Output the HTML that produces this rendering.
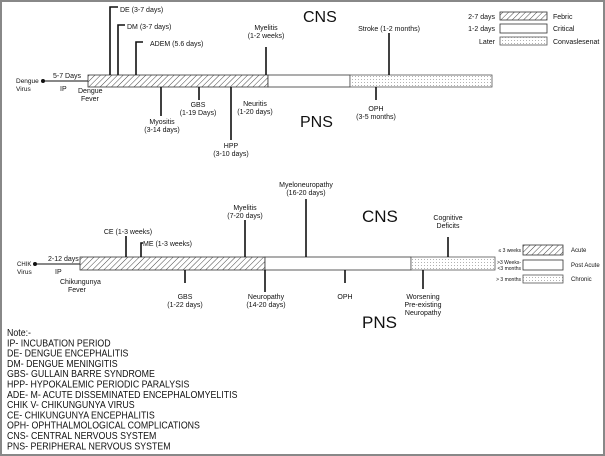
<!DOCTYPE html>
<html><head><meta charset="utf-8"><style>
html,body{margin:0;padding:0;background:#fff;}
svg{display:block;}
text{font-family:"Liberation Sans",Arial,sans-serif;fill:#111;}
.s{font-size:7px;}
.xs{font-size:5px;}
.n{font-size:10.5px;}
</style></head><body>
<svg width="605" height="456" viewBox="0 0 605 456" xmlns="http://www.w3.org/2000/svg">
<defs>
<pattern id="h" patternUnits="userSpaceOnUse" width="4" height="4" patternTransform="rotate(45)">
<rect width="4" height="4" fill="#fff"/><line x1="0" y1="0" x2="0" y2="4" stroke="#333" stroke-width="0.9"/></pattern>
<pattern id="d" patternUnits="userSpaceOnUse" width="3" height="3">
<rect width="3" height="3" fill="#fff"/><rect x="1" y="1" width="0.8" height="0.8" fill="#888"/></pattern>
</defs>
<rect x="1" y="1" width="603" height="454" fill="#fff" stroke="#888" stroke-width="2"/>

<!-- TOP diagram -->
<text x="303" y="22" style="font-size:16px">CNS</text>
<text x="300" y="127" style="font-size:16px">PNS</text>
<circle cx="43" cy="81" r="2" fill="#111"/>
<line x1="43" y1="81" x2="88" y2="81" stroke="#111" stroke-width="1"/>
<text class="s" x="16" y="83" style="font-size:6.5px">Dengue</text>
<text class="s" x="16" y="91" style="font-size:6.5px">Virus</text>
<text class="s" x="53" y="78">5-7 Days</text>
<text class="s" x="60" y="91">IP</text>
<text class="s" x="78" y="93">Dengue</text>
<text class="s" x="81" y="101">Fever</text>
<rect x="88" y="75" width="180" height="12" fill="url(#h)" stroke="#333" stroke-width="0.8"/>
<rect x="268" y="75" width="82" height="12" fill="#fff" stroke="#333" stroke-width="0.8"/>
<rect x="350" y="75" width="142" height="12" fill="url(#d)" stroke="#555" stroke-width="0.8"/>
<g stroke="#111" stroke-width="1.6" fill="none">
<polyline points="110,75 110,7 118,7"/>
<polyline points="118,75 118,25 125,25"/>
<polyline points="136,75 136,42 143,42"/>
<line x1="266" y1="75" x2="266" y2="47"/>
<line x1="389" y1="75" x2="389" y2="33"/>
<line x1="161" y1="87" x2="161" y2="116"/>
<line x1="199" y1="87" x2="199" y2="100"/>
<line x1="231" y1="87" x2="231" y2="140"/>
<line x1="376" y1="87" x2="376" y2="100"/>
</g>
<text class="s" x="120" y="12">DE (3-7 days)</text>
<text class="s" x="127" y="29">DM (3-7 days)</text>
<text class="s" x="150" y="46">ADEM (5.6 days)</text>
<g text-anchor="middle">
<text class="s" x="266" y="30">Myelitis</text>
<text class="s" x="266" y="38">(1-2 weeks)</text>
<text class="s" x="389" y="31">Stroke (1-2 months)</text>
<text class="s" x="162" y="124">Myositis</text>
<text class="s" x="162" y="132">(3-14 days)</text>
<text class="s" x="198" y="107">GBS</text>
<text class="s" x="198" y="115">(1-19 Days)</text>
<text class="s" x="255" y="106">Neuritis</text>
<text class="s" x="255" y="114">(1-20 days)</text>
<text class="s" x="231" y="148">HPP</text>
<text class="s" x="231" y="156">(3-10 days)</text>
<text class="s" x="376" y="111">OPH</text>
<text class="s" x="376" y="119">(3-5 months)</text>
</g>
<!-- legend top -->
<rect x="500" y="12" width="47" height="8" fill="url(#h)" stroke="#333" stroke-width="0.8"/>
<rect x="500" y="24" width="47" height="9" fill="#fff" stroke="#333" stroke-width="0.8"/>
<rect x="500" y="37" width="47" height="8" fill="url(#d)" stroke="#555" stroke-width="0.8"/>
<text class="s" x="495" y="19" text-anchor="end">2-7 days</text>
<text class="s" x="495" y="31" text-anchor="end">1-2 days</text>
<text class="s" x="495" y="44" text-anchor="end">Later</text>
<text class="s" x="553" y="19">Febric</text>
<text class="s" x="553" y="31">Critical</text>
<text class="s" x="553" y="44">Convaslesenat</text>

<!-- BOTTOM diagram -->
<text x="362" y="222" style="font-size:17px">CNS</text>
<text x="362" y="328" style="font-size:17px">PNS</text>
<circle cx="35" cy="264" r="2" fill="#111"/>
<line x1="35" y1="264" x2="80" y2="264" stroke="#111" stroke-width="1"/>
<text class="s" x="17" y="266" style="font-size:6px">CHIK</text>
<text class="s" x="17" y="274" style="font-size:6.5px">Virus</text>
<text class="s" x="48" y="261">2-12 days</text>
<text class="s" x="55" y="274">IP</text>
<text class="s" x="60" y="284">Chikungunya</text>
<text class="s" x="68" y="292">Fever</text>
<rect x="80" y="257" width="185" height="13" fill="url(#h)" stroke="#333" stroke-width="0.8"/>
<rect x="265" y="257" width="146" height="13" fill="#fff" stroke="#333" stroke-width="0.8"/>
<rect x="411" y="257" width="84" height="13" fill="url(#d)" stroke="#555" stroke-width="0.8"/>
<g stroke="#111" stroke-width="1.6" fill="none">
<line x1="126" y1="257" x2="126" y2="236"/>
<polyline points="141,257 141,243 143,243"/>
<line x1="245" y1="257" x2="245" y2="220"/>
<line x1="306" y1="257" x2="306" y2="199"/>
<line x1="448" y1="257" x2="448" y2="237"/>
<line x1="185" y1="270" x2="185" y2="283"/>
<line x1="265" y1="270" x2="265" y2="292"/>
<line x1="345" y1="270" x2="345" y2="283"/>
<line x1="423" y1="270" x2="423" y2="289"/>
</g>
<text class="s" x="143" y="246">ME (1-3 weeks)</text>
<g text-anchor="middle">
<text class="s" x="128" y="234">CE (1-3 weeks)</text>
<text class="s" x="245" y="210">Myelitis</text>
<text class="s" x="245" y="218">(7-20 days)</text>
<text class="s" x="306" y="187">Myeloneuropathy</text>
<text class="s" x="306" y="195">(16-20 days)</text>
<text class="s" x="448" y="220">Cognitive</text>
<text class="s" x="448" y="228">Deficits</text>
<text class="s" x="185" y="299">GBS</text>
<text class="s" x="185" y="307">(1-22 days)</text>
<text class="s" x="266" y="299">Neuropathy</text>
<text class="s" x="266" y="307">(14-20 days)</text>
<text class="s" x="345" y="299">OPH</text>
<text class="s" x="423" y="299">Worsening</text>
<text class="s" x="423" y="307">Pre-existing</text>
<text class="s" x="423" y="315">Neuropathy</text>
</g>
<!-- legend bottom -->
<rect x="523" y="245" width="40" height="10" fill="url(#h)" stroke="#333" stroke-width="0.8"/>
<rect x="523" y="260" width="40" height="10" fill="#fff" stroke="#333" stroke-width="0.8"/>
<rect x="523" y="275" width="40" height="8" fill="url(#d)" stroke="#555" stroke-width="0.8"/>
<text class="xs" x="521" y="252" text-anchor="end">≤ 3 weeks</text>
<text class="xs" x="521" y="264" text-anchor="end">&gt;3 Weeks-</text>
<text class="xs" x="521" y="270" text-anchor="end">&lt;3 months</text>
<text class="xs" x="521" y="281" text-anchor="end">&gt; 3 months</text>
<text class="xs" x="571" y="252" style="font-size:6px">Acute</text>
<text class="xs" x="571" y="267" style="font-size:6px">Post Acute</text>
<text class="xs" x="571" y="281" style="font-size:6px">Chronic</text>

<!-- Notes -->
<g transform="translate(7,0) scale(0.84,1)">
<text class="n" x="0" y="336">Note:-</text>
<text class="n" x="0" y="346.3">IP- INCUBATION PERIOD</text>
<text class="n" x="0" y="356.6">DE- DENGUE ENCEPHALITIS</text>
<text class="n" x="0" y="366.9">DM- DENGUE MENINGITIS</text>
<text class="n" x="0" y="377.2">GBS- GULLAIN BARRE SYNDROME</text>
<text class="n" x="0" y="387.5">HPP- HYPOKALEMIC PERIODIC PARALYSIS</text>
<text class="n" x="0" y="397.8">ADE- M- ACUTE DISSEMINATED ENCEPHALOMYELITIS</text>
<text class="n" x="0" y="408.1">CHIK V- CHIKUNGUNYA VIRUS</text>
<text class="n" x="0" y="418.4">CE- CHIKUNGUNYA ENCEPHALITIS</text>
<text class="n" x="0" y="428.7">OPH- OPHTHALMOLOGICAL COMPLICATIONS</text>
<text class="n" x="0" y="439">CNS- CENTRAL NERVOUS SYSTEM</text>
<text class="n" x="0" y="449.3">PNS- PERIPHERAL NERVOUS SYSTEM</text>
</g>
</svg>
</body></html>
